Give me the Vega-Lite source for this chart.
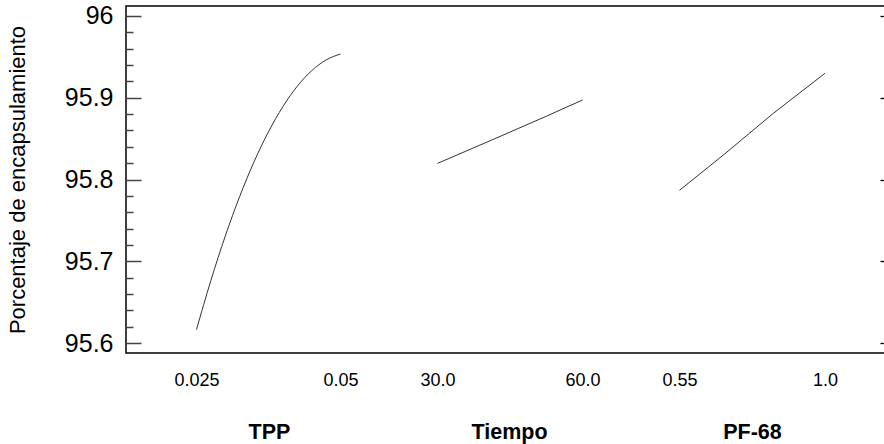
{
  "$schema": "https://vega.github.io/schema/vega-lite/v6.json",
  "width": 762,
  "height": 347,
  "autosize": "none",
  "padding": {"left": 126, "top": 6, "right": -4, "bottom": 91},
  "background": "white",
  "datasets": {
    "tpp": [
      {"TPP": 0.025, "value": 95.6165},
      {"TPP": 0.0275, "value": 95.6766},
      {"TPP": 0.03, "value": 95.7309},
      {"TPP": 0.0325, "value": 95.7793},
      {"TPP": 0.035, "value": 95.8218},
      {"TPP": 0.0375, "value": 95.8584},
      {"TPP": 0.04, "value": 95.8892},
      {"TPP": 0.0425, "value": 95.9141},
      {"TPP": 0.045, "value": 95.9331},
      {"TPP": 0.0475, "value": 95.9462},
      {"TPP": 0.05, "value": 95.9535}
    ],
    "tiempo": [
      {"Tiempo": 30, "value": 95.8197},
      {"Tiempo": 41.2, "value": 95.8482},
      {"Tiempo": 52.6, "value": 95.8776},
      {"Tiempo": 60, "value": 95.8972}
    ],
    "pf68": [
      {"PF68": 0.55, "value": 95.7868},
      {"PF68": 0.6855, "value": 95.8299},
      {"PF68": 0.8401, "value": 95.8809},
      {"PF68": 1.0, "value": 95.9299}
    ]
  },
  "config": {
    "font": "Liberation Sans",
    "view": {"stroke": "black", "strokeWidth": 1.5},
    "axis": {
      "domain": false,
      "grid": false,
      "labelColor": "black",
      "titleColor": "black"
    }
  },
  "layer": [
    {
      "data": {"name": "tpp"},
      "mark": {"type": "line", "color": "#333333", "strokeWidth": 1, "interpolate": "monotone"},
      "encoding": {
        "x": {
          "field": "TPP", "type": "quantitative",
          "scale": {"domain": [0.01276, 0.145052], "nice": false, "zero": false},
          "axis": {
            "orient": "bottom", "values": [0.025, 0.05],
            "labelExpr": "datum.value < 0.03 ? '0.025' : '0.05'",
            "ticks": false, "labelFontSize": 18, "labelPadding": 18,
            "title": "TPP", "titleFontSize": 21.5, "titleFontWeight": "bold",
            "titleX": 143, "titlePadding": 32
          }
        },
        "y": {
          "field": "value", "type": "quantitative",
          "scale": {"domain": [95.5878, 96.0122], "nice": false, "zero": false},
          "axis": {
            "orient": "left",
            "values": [95.6, 95.7, 95.8, 95.9, 96.0],
            "offset": -15, "ticks": true, "tickSize": 15, "tickWidth": 1.5,
            "tickColor": "#444444",
            "labelExpr": "toString(round(datum.value*10)/10)",
            "labelFontSize": 25, "labelPadding": 13,
            "title": "Porcentaje de encapsulamiento", "titleFontSize": 22, "titleFontWeight": "normal",
            "titlePadding": 35
          }
        }
      }
    },
    {
      "data": {"name": "tiempo"},
      "mark": {"type": "line", "color": "#333333", "strokeWidth": 1},
      "encoding": {
        "x": {
          "field": "Tiempo", "type": "quantitative",
          "scale": {"domain": [-34.448, 123.208], "nice": false, "zero": false},
          "axis": {
            "orient": "bottom", "values": [30, 60], "format": ".1f",
            "ticks": false, "labelFontSize": 18, "labelPadding": 18,
            "title": "Tiempo", "titleFontSize": 21.5, "titleFontWeight": "bold",
            "titleX": 383, "titlePadding": 32
          }
        },
        "y": {
          "field": "value", "type": "quantitative",
          "scale": {"domain": [95.5878, 96.0122], "nice": false, "zero": false},
          "axis": {
            "orient": "right",
            "values": [95.6, 95.7, 95.8, 95.9, 96.0],
            "offset": -8, "tickSize": 4, "tickWidth": 1.3, "tickColor": "black",
            "labels": false, "title": null
          }
        }
      }
    },
    {
      "data": {"name": "pf68"},
      "mark": {"type": "line", "color": "#333333", "strokeWidth": 1},
      "encoding": {
        "x": {
          "field": "PF68", "type": "quantitative",
          "scale": {"domain": [-1.16186, 1.19487], "nice": false, "zero": false},
          "axis": {
            "orient": "bottom", "values": [0.55, 1.0],
            "labelExpr": "datum.value >= 1 ? '1.0' : '0.55'",
            "ticks": false, "labelFontSize": 18, "labelPadding": 18,
            "title": "PF-68", "titleFontSize": 21.5, "titleFontWeight": "bold",
            "titleX": 626, "titlePadding": 32
          }
        },
        "y": {
          "field": "value", "type": "quantitative",
          "scale": {"domain": [95.5878, 96.0122], "nice": false, "zero": false},
          "axis": {
            "orient": "left",
            "values": [95.62, 95.64, 95.66, 95.68, 95.72, 95.74, 95.76, 95.78, 95.82, 95.84, 95.86, 95.88, 95.92, 95.94, 95.96, 95.98],
            "offset": 0, "ticks": true, "tickSize": -7, "tickWidth": 1.5,
            "tickColor": "#444444",
            "labels": false, "title": null
          }
        }
      }
    }
  ],
  "resolve": {
    "scale": {"x": "independent"},
    "axis": {"x": "independent", "y": "independent"}
  }
}
